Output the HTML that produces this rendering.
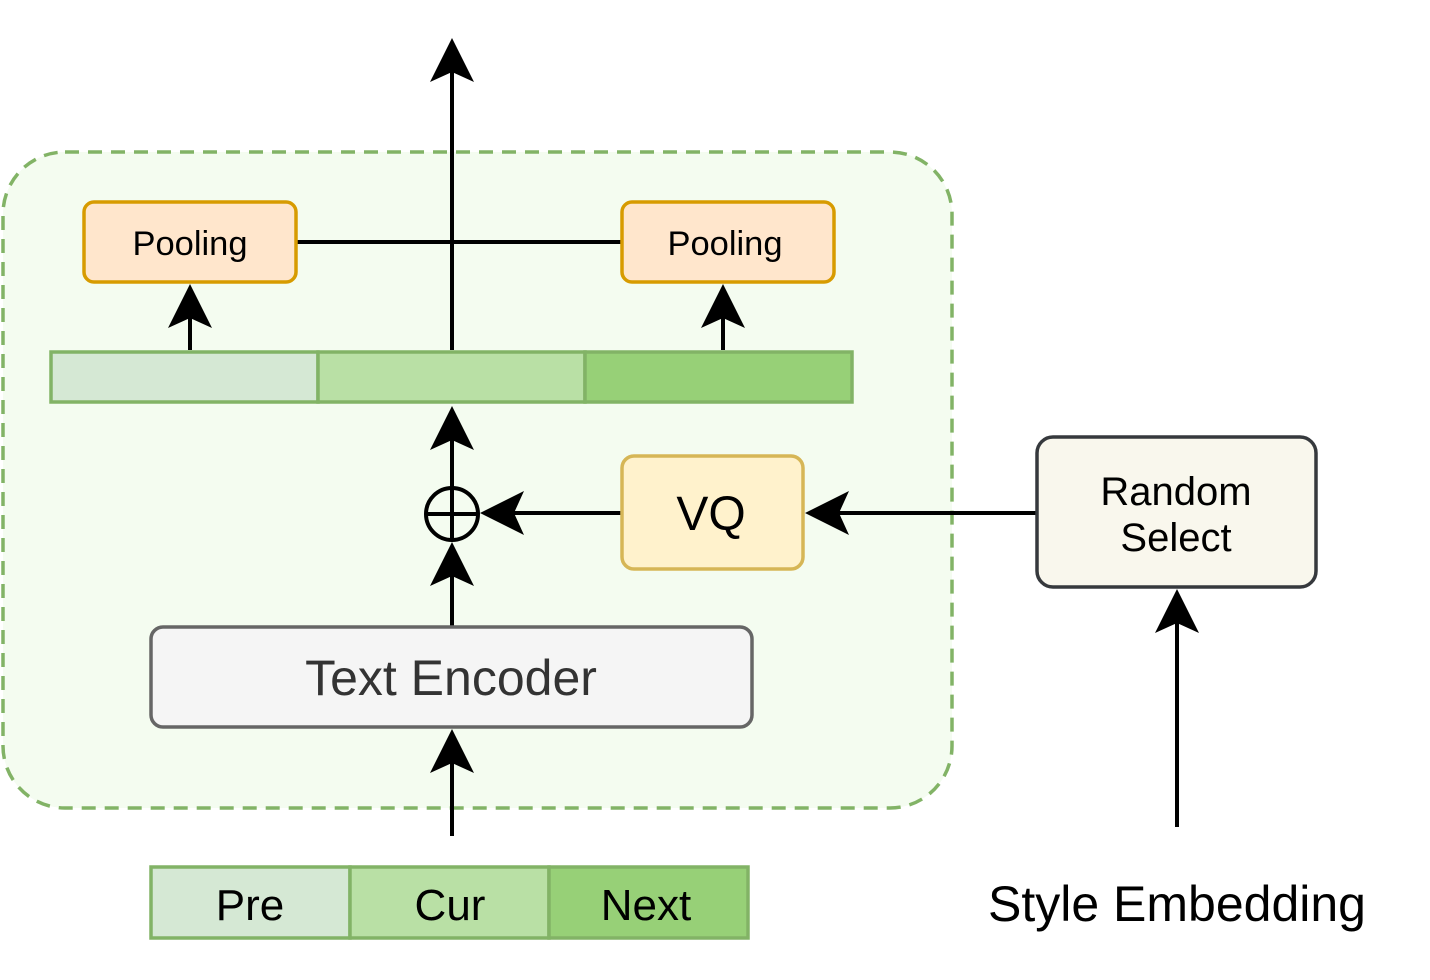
<!DOCTYPE html>
<html><head><meta charset="utf-8"><style>
html,body{margin:0;padding:0;background:#fff;}
svg{display:block;font-family:"Liberation Sans",Arial,sans-serif;}
</style></head><body>
<svg width="1430" height="980" viewBox="0 0 1430 980" xmlns="http://www.w3.org/2000/svg">
<defs>
<g id="ah"><path d="M0,0 L-22,44 L0,34 L22,44 Z" fill="#000"/></g>
</defs>
<rect x="3" y="152" width="949" height="656" rx="62" fill="#f4fcf0" stroke="#82b366" stroke-width="3.5" stroke-dasharray="14,9"/>

<g stroke="#000" stroke-width="4" fill="none">
<line x1="296" y1="242" x2="622" y2="242"/>
<line x1="452" y1="350" x2="452" y2="70"/>
<line x1="190" y1="350" x2="190" y2="310"/>
<line x1="723" y1="350" x2="723" y2="310"/>
<line x1="452" y1="488" x2="452" y2="440"/>
<line x1="452" y1="627" x2="452" y2="570"/>
<line x1="452" y1="836" x2="452" y2="760"/>
<line x1="622" y1="513" x2="510" y2="513"/>
<line x1="1037" y1="513" x2="835" y2="513"/>
<line x1="1177" y1="827" x2="1177" y2="620"/>
</g>
<use href="#ah" transform="translate(452,38)"/>
<use href="#ah" transform="translate(190,284)"/>
<use href="#ah" transform="translate(723,284)"/>
<use href="#ah" transform="translate(452,406)"/>
<use href="#ah" transform="translate(452,542)"/>
<use href="#ah" transform="translate(452,729)"/>
<use href="#ah" transform="translate(480,513) rotate(-90)"/>
<use href="#ah" transform="translate(805,513) rotate(-90)"/>
<use href="#ah" transform="translate(1177,589)"/>

<circle cx="452" cy="514" r="26" fill="none" stroke="#000" stroke-width="4"/>
<line x1="426" y1="514" x2="478" y2="514" stroke="#000" stroke-width="4"/>
<line x1="452" y1="488" x2="452" y2="540" stroke="#000" stroke-width="4"/>

<rect x="84" y="202" width="212" height="80" rx="10" fill="#ffe6cc" stroke="#d79b00" stroke-width="3.5"/>
<text x="190" y="255" font-size="34.5" text-anchor="middle">Pooling</text>
<rect x="622" y="202" width="212" height="80" rx="10" fill="#ffe6cc" stroke="#d79b00" stroke-width="3.5"/>
<text x="725" y="255" font-size="34.5" text-anchor="middle">Pooling</text>

<g stroke="#82b366" stroke-width="3.5">
<rect x="51" y="352" width="267" height="50" fill="#d5e8d4"/>
<rect x="318" y="352" width="267" height="50" fill="#b9e0a5"/>
<rect x="585" y="352" width="267" height="50" fill="#97d077"/>
</g>

<rect x="622" y="456" width="181" height="113" rx="12" fill="#fff2cc" stroke="#d6b656" stroke-width="3.5"/>
<text x="711" y="530" font-size="48" text-anchor="middle">VQ</text>

<rect x="1037" y="437" width="279" height="150" rx="16" fill="#f9f7ed" stroke="#36393d" stroke-width="3.5"/>
<text x="1176" y="505" font-size="40" text-anchor="middle">Random</text>
<text x="1176" y="551" font-size="40" text-anchor="middle">Select</text>

<rect x="151" y="627" width="601" height="100" rx="12" fill="#f5f5f5" stroke="#666" stroke-width="3.5"/>
<text x="451" y="695" font-size="50" text-anchor="middle" fill="#333">Text Encoder</text>

<g stroke="#82b366" stroke-width="3.5">
<rect x="151" y="867" width="199" height="71" fill="#d5e8d4"/>
<rect x="350" y="867" width="199" height="71" fill="#b9e0a5"/>
<rect x="549" y="867" width="199" height="71" fill="#97d077"/>
</g>
<text x="250" y="920" font-size="44" text-anchor="middle">Pre</text>
<text x="450" y="920" font-size="44" text-anchor="middle">Cur</text>
<text x="646" y="920" font-size="44" text-anchor="middle">Next</text>

<text x="1177" y="921" font-size="50" text-anchor="middle">Style Embedding</text>
</svg>
</body></html>
